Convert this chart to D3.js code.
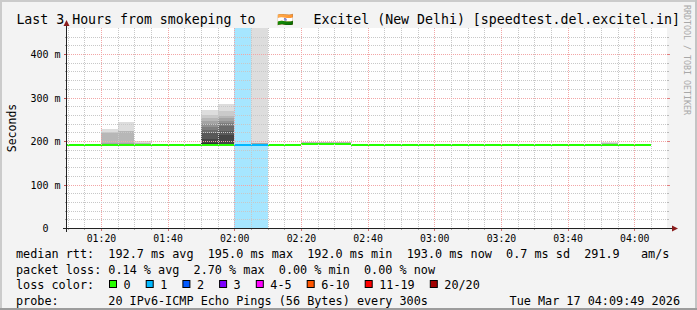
<!DOCTYPE html>
<html><head><meta charset="utf-8">
<script src="https://cdn.jsdelivr.net/npm/d3@7"></script>
<style>
html,body{margin:0;padding:0;background:#f3f3f3;}
svg{display:block;}
text{font-family:"DejaVu Sans Mono",monospace;white-space:pre;}
</style></head><body>
<svg id="c" width="697" height="310" xml:space="preserve"></svg>
<script>
// ---------------- data ----------------
const titleStart = "Last 3 Hours from smokeping to ";
const titleFlag = "\u{1F1EE}\u{1F1F3}";
const titleEnd = " Excitel (New Delhi) [speedtest.del.excitel.in]";
const timeStart = "01:09:49", timeEnd = "04:09:49";
const xTickLabels = ["01:20","01:40","02:00","02:20","02:40","03:00","03:20","03:40","04:00"];
const yTickValues = [0,100,200,300,400];
const yTickLabels = ["0","100 m","200 m","300 m","400 m"];
const yMax = 460;
const yTitle = "Seconds";
const stepSeconds = 300;
const stepStarts = ["01:05","01:10","01:15","01:20","01:25","01:30","01:35","01:40","01:45","01:50","01:55","02:00",
  "02:05","02:10","02:15","02:20","02:25","02:30","02:35","02:40","02:45","02:50","02:55","03:00",
  "03:05","03:10","03:15","03:20","03:25","03:30","03:35","03:40","03:45","03:50","03:55","04:00"];
const medianMs = [193,193,192.5,193,193,193,192.5,192.5,193,193,193,193,
  193,192.5,192.2,195,195,194.8,192.5,192.5,192.5,192.5,192.5,192.5,
  192.5,192.5,192.5,192.5,192.5,192.5,192.5,192.5,192.5,193,192.5,193];
const lossCount = [0,0,0,0,0,0,0,0,0,0,0,1, 1,0,0,0,0,0,0,0,0,0,0,0, 0,0,0,0,0,0,0,0,0,0,0,0];
const smokeSteps = ["01:20","01:25","01:30","01:50","01:55","02:05","02:20","02:25","02:30","03:50"];
const smokePings = [
  [191,191.5,192,192,192.5,192.5,193,193,193,193,193.5,193.5,193.5,194,194,194,194.5,218,220,227],
  [191,191.5,192,192,192.5,192.5,193,193,193,193,193.5,193.5,193.5,194,194,194,195,222,224,243],
  [191.5,192,192,192,192.5,192.5,193,193,193,193,193,193.5,193.5,193.5,194,194,194,194.5,195,201],
  [191,191.5,192,192,192.5,192.5,193,193,193,193.5,196,205,218,226,233,240,247,253,261,271],
  [191,191.5,192,192,192.5,192.5,193,193,193,193.5,194,214,224,234,241,247,253,258,270,285],
  [192,192.5,192.5,193,193,193,193,193,193,193,193.5,193.5,193.5,194,194,194,194.5,195,196,999],
  [193,193.5,194,194,194.5,194.5,195,195,195,195,195,195.5,195.5,195.5,196,196,196.5,197,197.5,198.5],
  [193,193.5,194,194,194.5,194.5,195,195,195,195,195,195.5,195.5,195.5,196,196,196.5,197,197.5,198.5],
  [193,193.5,194,194,194.5,194.5,195,195,195,195,195,195.5,195.5,195.5,196,196,196.5,197,197.5,198.5],
  [191.5,192,192,192.5,192.5,192.5,193,193,193,193,193,193,193.5,193.5,193.5,194,194,194.5,195,198]
];
const lossLabels = ["0","1","2","3","4-5","6-10","11-19","20/20"];
const lossColors = ["#26ff00","#00b8ff","#0059ff","#7e00ff","#ff00ff","#ff5500","#ff0000","#a10000"];
const statsRtt = "median rtt:  192.7 ms avg  195.0 ms max  192.0 ms min  193.0 ms now  0.7 ms sd  291.9   am/s";
const statsLoss = "packet loss: 0.14 % avg  2.70 % max  0.00 % min  0.00 % now";
const lossTitle = "loss color:";
const probeTitle = "probe:";
const probeText = "20 IPv6-ICMP Echo Pings (56 Bytes) every 300s";
const stampText = "Tue Mar 17 04:09:49 2026";
const watermark = "RRDTOOL / TOBI OETIKER";

// ---------------- layout ----------------
const W = 697, H = 310, L = 67, T = 28, PW = 600, PH = 200;
const svg = d3.select("#c");
const parseT = d3.utcParse("%H:%M:%S"), parseHM = d3.utcParse("%H:%M");
const x = d3.scaleUtc().domain([parseT(timeStart), parseT(timeEnd)]).range([L, L + PW]);
const y = d3.scaleLinear().domain([0, yMax]).range([T + PH, T]);
const lossIndex = n => n === 0 ? 0 : n === 1 ? 1 : n === 2 ? 2 : n === 3 ? 3 : n <= 5 ? 4 : n <= 10 ? 5 : n <= 19 ? 6 : 7;

svg.append("rect").attr("width", W).attr("height", H).attr("fill", "#f3f3f3");
// 3d shade border
svg.append("rect").attr("x",0).attr("y",0).attr("width",W).attr("height",2).attr("fill","#cbcbcb");
svg.append("rect").attr("x",0).attr("y",0).attr("width",2).attr("height",H).attr("fill","#cbcbcb");
svg.append("rect").attr("x",W-2).attr("y",0).attr("width",2).attr("height",H).attr("fill","#c4c4c4");
svg.append("rect").attr("x",0).attr("y",H-2).attr("width",W).attr("height",2).attr("fill","#9c9c9c");

svg.append("rect").attr("x", L).attr("y", T).attr("width", PW).attr("height", PH).attr("fill", "#fff");
svg.append("defs").append("clipPath").attr("id", "pc").append("rect")
  .attr("x", L).attr("y", T).attr("width", PW).attr("height", PH);
const g = svg.append("g").attr("clip-path", "url(#pc)");

const steps = stepStarts.map((s, i) => {
  const a = parseHM(s);
  return { a, b: new Date(+a + stepSeconds * 1000), med: medianMs[i], loss: lossCount[i] };
});
const xr = t => Math.round(x(t));
const yr = v => Math.round(y(v));

// loss background
g.selectAll("rect.lbg").data(steps.filter(d => d.loss > 0)).join("rect")
  .attr("x", d => xr(d.a)).attr("width", d => xr(d.b) - xr(d.a))
  .attr("y", T).attr("height", PH)
  .attr("fill", d => lossColors[lossIndex(d.loss)]).attr("fill-opacity", 0.35);

// smoke
smokeSteps.forEach((s, si) => {
  const a = parseHM(s), b = new Date(+a + stepSeconds * 1000);
  const p = smokePings[si];
  const half = p.length / 2;
  for (let i = 0; i < half; i++) {
    const c = Math.floor(190 / half * (half - (i + 1))) + 50;
    const top = Math.max(T - 2, yr(p[p.length - 1 - i])), bot = yr(p[i]);
    if (bot - top <= 0) continue;
    g.append("rect").attr("x", xr(a)).attr("width", xr(b) - xr(a))
      .attr("y", top).attr("height", bot - top).attr("fill", d3.rgb(c, c, c));
  }
});

// median
g.selectAll("rect.med").data(steps).join("rect")
  .attr("x", d => xr(d.a)).attr("width", d => xr(d.b) - xr(d.a))
  .attr("y", d => yr(d.med)).attr("height", 2)
  .attr("fill", d => lossColors[lossIndex(d.loss)]);

// grid
const gridMinor = "#c8c8c8", gridMajor = "#f2a6a6";
const xMinor = x.ticks(d3.utcMinute.every(5)).filter(t => x(t) > L + 0.5);
const isMajorT = t => t.getUTCMinutes() % 20 === 0;
const gg = svg.append("g");
xMinor.forEach(t => {
  const px = xr(t) + 0.5, maj = isMajorT(t);
  gg.append("line").attr("x1", px).attr("x2", px).attr("y1", T).attr("y2", T + PH)
    .attr("stroke", maj ? gridMajor : gridMinor).attr("stroke-dasharray", "1,1");
  gg.append("line").attr("x1", px).attr("x2", px).attr("y1", T + PH).attr("y2", T + PH + (maj ? 3 : 2))
    .attr("stroke", maj ? "#d07070" : "#aaa");
});
d3.range(20, yMax, 20).forEach(v => {
  const py = yr(v) + 0.5, maj = v % 100 === 0;
  gg.append("line").attr("x1", L).attr("x2", L + PW).attr("y1", py).attr("y2", py)
    .attr("stroke", maj ? gridMajor : gridMinor).attr("stroke-dasharray", "1,1");
  gg.append("line").attr("x1", L - (maj ? 3 : 2)).attr("x2", L).attr("y1", py).attr("y2", py)
    .attr("stroke", maj ? "#c05050" : "#999");
  gg.append("line").attr("x1", L + PW).attr("x2", L + PW + (maj ? 3 : 2)).attr("y1", py).attr("y2", py)
    .attr("stroke", maj ? "#e08080" : "#bbb");
});

// axes lines + arrows
const axisCol = "#222", arrowCol = "#8a1c1c";
svg.append("line").attr("x1", L - 4).attr("x2", L + PW + 5).attr("y1", T + PH + 0.5).attr("y2", T + PH + 0.5).attr("stroke", axisCol);
svg.append("path").attr("d", `M${L + PW + 5},${T + PH - 2.5}L${L + PW + 11},${T + PH + 0.5}L${L + PW + 5},${T + PH + 3.5}Z`).attr("fill", arrowCol);
svg.append("line").attr("x1", L - 0.5).attr("x2", L - 0.5).attr("y1", T + PH + 4).attr("y2", T - 2).attr("stroke", axisCol);
svg.append("path").attr("d", `M${L - 3.5},${T - 2}L${L - 0.5},${T - 8}L${L + 2.5},${T - 2}Z`).attr("fill", arrowCol);

// axis labels via d3 axes
const xa = svg.append("g").attr("transform", `translate(0,${T + PH})`)
  .call(d3.axisBottom(x).tickValues(xTickLabels.map(parseHM)).tickFormat(d3.utcFormat("%H:%M")).tickSize(0));
xa.select(".domain").remove();
xa.selectAll("text").attr("y", 14).attr("dy", 0).attr("fill", "#000")
  .style("font-family", '"DejaVu Sans Mono",monospace').style("font-size", "9.8px");
const ya = svg.append("g").attr("transform", `translate(${L},0)`)
  .call(d3.axisLeft(y).tickValues(yTickValues).tickFormat((d, i) => yTickLabels[i].includes(" ") ? yTickLabels[i] : yTickLabels[i] + "  ").tickSize(0));
ya.select(".domain").remove();
ya.selectAll("text").attr("x", -6.5).attr("dy", "0.36em").attr("fill", "#000")
  .style("font-family", '"DejaVu Sans Mono",monospace').style("font-size", "10px");

// y title
svg.append("text").attr("transform", "translate(15.5,128) rotate(-90)").attr("text-anchor", "middle")
  .style("font-size", "11.5px").text(yTitle);

// title
svg.append("text").attr("x", 16.4).attr("y", 24).style("font-size", "13.24px").text(titleStart);
svg.append("text").attr("x", 285).attr("y", 24).attr("text-anchor", "middle").style("font-size", "13.24px").text(titleFlag);
svg.append("text").attr("x", 680).attr("y", 24).attr("text-anchor", "end").style("font-size", "13.24px").text(titleEnd);

// watermark
svg.append("text").attr("transform", "translate(683.5,5) rotate(90)").attr("fill", "#a8a8a8")
  .style("font-size", "8.3px").text(watermark);

// legend
const lf = "11.8px", cw = 7.1;
svg.append("text").attr("x", 16).attr("y", 258).style("font-size", lf).text(statsRtt);
svg.append("text").attr("x", 16).attr("y", 274).style("font-size", lf).text(statsLoss);
svg.append("text").attr("x", 16).attr("y", 289).style("font-size", lf).text(lossTitle);
let bx = 109;
lossLabels.forEach((lab, i) => {
  svg.append("rect").attr("x", bx + 0.5).attr("y", 289 - 8.5).attr("width", 7).attr("height", 7)
    .attr("fill", lossColors[i]).attr("stroke", "#000").attr("stroke-width", 1);
  svg.append("text").attr("x", bx + 14.5).attr("y", 289).style("font-size", lf).text(lab);
  bx += 14.5 + lab.length * cw + 15.1;
});
svg.append("text").attr("x", 16).attr("y", 305).style("font-size", lf).text(probeTitle);
svg.append("text").attr("x", 16 + 13 * cw).attr("y", 305).style("font-size", lf).text(probeText);
svg.append("text").attr("x", 680).attr("y", 305).attr("text-anchor", "end").style("font-size", lf).text(stampText);
</script>
</body></html>
